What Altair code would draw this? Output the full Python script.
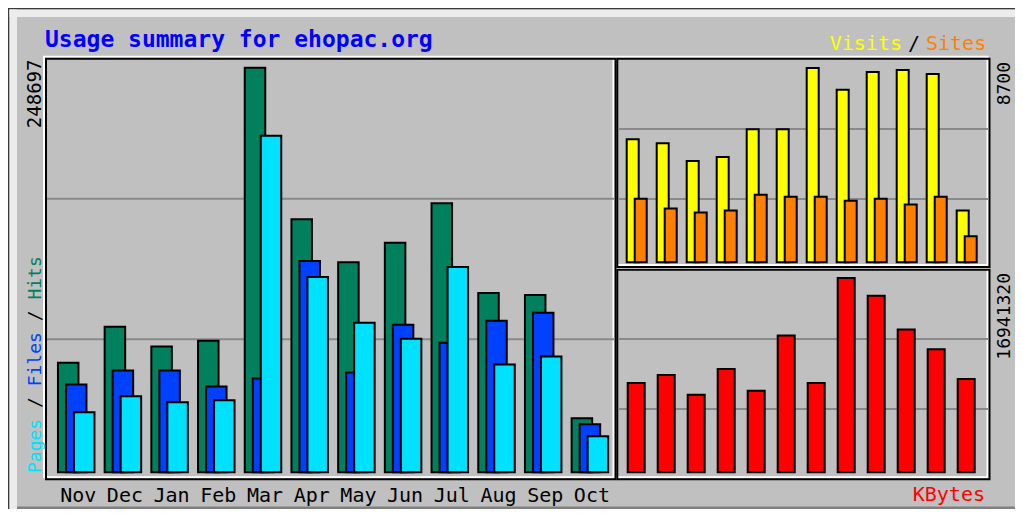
import altair as alt
import pandas as pd

# ---------------- data ----------------
months = ["Nov", "Dec", "Jan", "Feb", "Mar", "Apr", "May", "Jun", "Jul", "Aug", "Sep", "Oct"]
hits = [67280, 89480, 77250, 80910, 248697, 155530, 129050, 141040, 165320, 110270, 109050, 33210]
files = [54000, 62570, 62570, 52780, 57670, 129840, 61340, 90700, 79690, 93150, 98040, 29540]
pages = [36880, 46670, 43000, 44220, 206900, 120060, 91920, 82140, 126170, 66240, 71130, 22200]
visits = [5509, 5332, 4534, 4711, 5952, 5952, 8700, 7725, 8523, 8611, 8434, 2318]
sites = [2850, 2407, 2229, 2318, 3027, 2938, 2938, 2761, 2850, 2584, 2938, 1166]
kbytes = [7793000, 8484000, 6757000, 9002000, 7103000, 11936000, 7793000,
          16941320, 15388000, 12454000, 10727000, 8138000]

title_text = "Usage summary for ehopac.org"

# ---------------- style ----------------
HIT, FILE, PAGE = "#00805c", "#0040ff", "#00e0ff"
VISIT, SITE, KB = "#ffff00", "#ff8000", "#ff0000"
BG, DARK, GRID = "#c0c0c0", "#808080", "#8a8a8a"
FONT = "DejaVu Sans Mono"

OX, OY = 8, 8          # page offset of the chart origin
W, H = 1007, 501


def X(v):
    return v - OX


def Y(v):
    return v - OY


one = pd.DataFrame({"k": [0]})


def box(x0, y0, x1, y1, **kw):
    return alt.Chart(one).mark_rect(**kw).encode(
        x=alt.value(X(x0)), x2=alt.value(X(x1)),
        y=alt.value(Y(y0)), y2=alt.value(Y(y1)))


def hline(x0, x1, y, **kw):
    return alt.Chart(one).mark_rule(**kw).encode(
        x=alt.value(X(x0)), x2=alt.value(X(x1)), y=alt.value(Y(y)))


def label(txt, x, y, **kw):
    return alt.Chart(one).mark_text(text=txt, font=FONT, **kw).encode(
        x=alt.value(X(x)), y=alt.value(Y(y)))


def xscale(lo, hi):
    return alt.Scale(domain=[0, len(months) - 1], range=[X(lo), X(hi)],
                     nice=False, zero=False, padding=0)


def yscale(top_value, base, top):
    return alt.Scale(domain=[0, top_value], range=[Y(base), Y(top)], nice=False, padding=0)


# ---------------- frame / panels ----------------
decor = [
    box(8, 8, 1015, 9.5, fill="#3a3a3a"),
    box(8, 8, 9.5, 509, fill="#3a3a3a"),
    box(9.5, 9.5, 1015, 17, fill="#ececec"),
    box(9.5, 9.5, 17, 509, fill="#ececec"),
    box(17, 506.5, 1015, 509, fill=DARK),
]

panels = [
    (46, 58.8, 615.5, 479.2),
    (617.3, 58.8, 989.5, 267.0),
    (617.3, 269.7, 989.5, 479.3),
]
for (a, b, c, d) in panels:
    decor.append(box(a - 2, b - 2, c - 2, d - 2, fill="transparent", stroke="white", strokeWidth=2))
for (a, b, c, d) in panels:
    decor.append(box(a, b, c, d, fill="transparent", stroke="black", strokeWidth=2))

for gy in (198.7, 339.3):
    decor.append(hline(47, 614.5, gy, color=GRID, strokeWidth=2))
for gy in (129, 199):
    decor.append(hline(618.3, 988.5, gy, color=GRID, strokeWidth=2))
for gy in (339, 409):
    decor.append(hline(618.3, 988.5, gy, color=GRID, strokeWidth=2))

# ---------------- main panel: hits / files / pages ----------------
idx = list(range(len(months)))
df_main = pd.DataFrame({"i": idx, "month": months, "hits": hits, "files": files, "pages": pages})
mx = alt.X("i:Q", axis=None, scale=xscale(76.2, 589.9))
main_y = yscale(max(hits), 472.3, 67.7)
mb = alt.Chart(df_main)
main = alt.layer(
    mb.mark_bar(width=20.5, xOffset=-8, fill=HIT, stroke="black", strokeWidth=2).encode(
        x=mx, y=alt.Y("hits:Q", scale=main_y, axis=None)),
    mb.mark_bar(width=20.5, xOffset=0, fill=FILE, stroke="black", strokeWidth=2).encode(
        x=mx, y=alt.Y("files:Q", scale=main_y, axis=None)),
    mb.mark_bar(width=20.5, xOffset=8, fill=PAGE, stroke="black", strokeWidth=2).encode(
        x=mx, y=alt.Y("pages:Q", scale=main_y, axis=None)),
    mb.mark_text(font=FONT, fontSize=20, baseline="alphabetic", align="center", dx=2, color="black").encode(
        x=mx, y=alt.value(Y(501.5)), text="month:N"),
)

# ---------------- visits / sites panel ----------------
df_vis = pd.DataFrame({"i": idx, "visits": visits, "sites": sites})
vx = alt.X("i:Q", axis=None, scale=xscale(636.7, 966.7))
vis_y = yscale(max(visits), 262.3, 68)
vb = alt.Chart(df_vis)
vis = alt.layer(
    vb.mark_bar(width=12, xOffset=-4, fill=VISIT, stroke="black", strokeWidth=2).encode(
        x=vx, y=alt.Y("visits:Q", scale=vis_y, axis=None)),
    vb.mark_bar(width=12, xOffset=4, fill=SITE, stroke="black", strokeWidth=2).encode(
        x=vx, y=alt.Y("sites:Q", scale=vis_y, axis=None)),
)

# ---------------- kbytes panel ----------------
df_kb = pd.DataFrame({"i": idx, "kbytes": kbytes})
kx = alt.X("i:Q", axis=None, scale=xscale(636.2, 966.2))
kb_y = yscale(max(kbytes), 472.3, 278)
kb = alt.Chart(df_kb).mark_bar(width=17, fill=KB, stroke="black", strokeWidth=2).encode(
    x=kx, y=alt.Y("kbytes:Q", scale=kb_y, axis=None))

# ---------------- texts ----------------
ADV18 = 0.602 * 18
texts = [
    label(title_text, 45, 46.5, fontSize=23, fontWeight="bold", color="#0000ff",
          align="left", baseline="alphabetic"),
    label("Visits", 902, 50, fontSize=20, color=VISIT, align="right", baseline="alphabetic"),
    label("/", 914, 50, fontSize=20, color="black", align="center", baseline="alphabetic"),
    label("Sites", 926, 50, fontSize=20, color=SITE, align="left", baseline="alphabetic"),
    label("KBytes", 985, 500.5, fontSize=20, color=KB, align="right", baseline="alphabetic"),
    label(str(max(hits)), 41, 59.5, fontSize=19, color="black", angle=270,
          align="right", baseline="alphabetic"),
    label(str(max(visits)), 1010, 62, fontSize=18, color="black", angle=270,
          align="right", baseline="alphabetic"),
    label(str(max(kbytes)), 1010, 273, fontSize=18, color="black", angle=270,
          align="right", baseline="alphabetic"),
]
legend = [("Pages", PAGE, 0), ("/", "black", 6), ("Files", FILE, 8), ("/", "black", 14), ("Hits", HIT, 16)]
for txt, col, k in legend:
    texts.append(label(txt, 41, 473 - k * ADV18, fontSize=18, color=col, angle=270,
                       align="left", baseline="alphabetic"))

chart = alt.layer(*decor, main, vis, kb, *texts).resolve_scale(
    x="independent", y="independent"
).properties(
    width=W, height=H, padding=0, background=BG,
    autosize=alt.AutoSizeParams(type="none"),
).configure_view(stroke="transparent")

chart.save("out.html", embed_options={"renderer": "svg", "actions": False})
